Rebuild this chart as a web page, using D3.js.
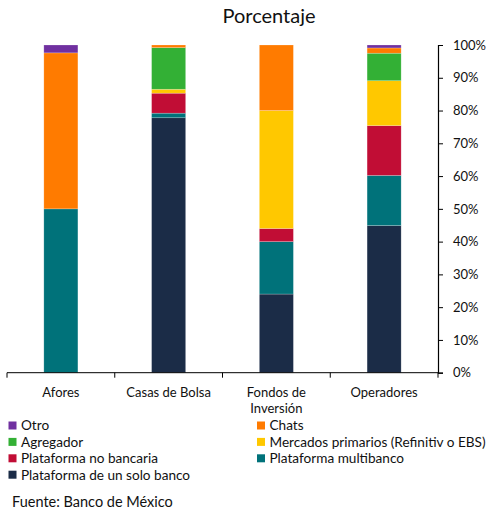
<!DOCTYPE html>
<html>
<head>
<meta charset="utf-8">
<script src="https://cdn.jsdelivr.net/npm/d3@7"></script>
<style>
  body { margin: 0; background: #fff; }
  svg { display: block; font-family: Lato, "Open Sans", sans-serif; }
</style>
</head>
<body>
<svg id="chart" width="487" height="512"></svg>
<script>
// Categories (x axis) and stacked series, bottom to top
const categories = ["Afores", "Casas de Bolsa", "Fondos de\nInversión", "Operadores"];
const seriesNames = [
  "Plataforma de un solo banco",
  "Plataforma multibanco",
  "Plataforma no bancaria",
  "Mercados primarios (Refinitiv o EBS)",
  "Agregador",
  "Chats",
  "Otro"
];
const seriesColors = ["#1b2c47", "#00727a", "#c10d35", "#ffc800", "#33b035", "#ff7b00", "#7030a0"];
// Percentages per category, one array per series (same order as seriesNames)
const soloBanco   = [0,    77.8, 24, 44.9];
const multibanco  = [50,   1.4,  16, 15.3];
const noBancaria  = [0,    6.1,  4,  15.2];
const mercados    = [0,    1.2,  36, 13.7];
const agregador   = [0,    12.7, 0,  8.4];
const chats       = [47.6, 0.8,  20, 1.6];
const otro        = [2.4,  0,    0,  0.9];
const yTicks = [0, 10, 20, 30, 40, 50, 60, 70, 80, 90, 100];

const values = [soloBanco, multibanco, noBancaria, mercados, agregador, chats, otro];
const rows = categories.map((c, i) => {
  const r = { cat: c };
  seriesNames.forEach((s, j) => r[s] = values[j][i]);
  return r;
});

const svg = d3.select("#chart");
const plotLeft = 7, plotRight = 438, plotTop = 45, plotBottom = 372.7;

const x = d3.scaleBand().domain(categories).range([plotLeft, plotRight]).paddingInner(0).paddingOuter(0);
const y = d3.scaleLinear().domain([0, 100]).range([plotBottom, plotTop]);
const barW = x.bandwidth() * 0.316;

const stack = d3.stack().keys(seriesNames)(rows);

// Bars
svg.append("g").selectAll("g").data(stack).join("g")
  .attr("fill", (d, i) => seriesColors[i])
  .selectAll("rect").data(d => d).join("rect")
  .attr("x", d => x(d.data.cat) + (x.bandwidth() - barW) / 2)
  .attr("width", barW)
  .attr("y", d => y(d[1]))
  .attr("height", d => Math.max(0, y(d[0]) - y(d[1])))
  .attr("stroke", "#fff")
  .attr("stroke-opacity", 0.35)
  .attr("stroke-width", 0.6);

// Right-hand value axis
const yAxis = svg.append("g")
  .attr("transform", `translate(${plotRight},0)`)
  .call(d3.axisRight(y).tickValues(yTicks).tickFormat(d => d + "%").tickSize(5).tickPadding(10));
yAxis.select(".domain").attr("stroke", "#000").attr("stroke-width", 1.2);
yAxis.selectAll(".tick line").attr("stroke", "#000");
yAxis.selectAll("text").attr("font-size", 13).attr("fill", "#111")
  .attr("font-family", "Lato, 'Open Sans', sans-serif");

// Category axis along the bottom
const xAxisG = svg.append("g").attr("transform", `translate(0,${plotBottom})`);
xAxisG.append("line").attr("x1", plotLeft).attr("x2", plotRight).attr("stroke", "#000").attr("stroke-width", 1);
const catEdges = categories.map(c => x(c)).concat([plotRight]);
xAxisG.selectAll("line.tk").data(catEdges).join("line").attr("class", "tk")
  .attr("x1", d => d).attr("x2", d => d).attr("y1", 0).attr("y2", 5)
  .attr("stroke", "#000");
xAxisG.selectAll("text").data(categories).join("text")
  .attr("x", d => x(d) + x.bandwidth() / 2)
  .attr("y", 24)
  .attr("text-anchor", "middle")
  .attr("font-size", 13)
  .attr("fill", "#111")
  .each(function (d) {
    const lines = d.split("\n");
    d3.select(this).selectAll("tspan").data(lines).join("tspan")
      .attr("x", x(d) + x.bandwidth() / 2)
      .attr("dy", (l, i) => i === 0 ? 0 : 16)
      .text(l => l);
  });

// Title
svg.append("text").attr("x", 269).attr("y", 23).attr("text-anchor", "middle")
  .attr("font-size", 20).attr("fill", "#111").text("Porcentaje");

// Legend (two columns, filled row by row, top series first)
const legendOrder = ["Otro", "Chats", "Agregador", "Mercados primarios (Refinitiv o EBS)",
  "Plataforma no bancaria", "Plataforma multibanco", "Plataforma de un solo banco"];
const legend = svg.append("g");
legendOrder.forEach((name, i) => {
  const col = i % 2, row = Math.floor(i / 2);
  const lx = col === 0 ? 8.5 : 257, ly = 425.5 + row * 16.4;
  const g = legend.append("g").attr("transform", `translate(${lx},${ly})`);
  g.append("rect").attr("x", 0).attr("y", -4).attr("width", 8).attr("height", 8)
    .attr("fill", seriesColors[seriesNames.indexOf(name)]);
  g.append("text").attr("x", 12.5).attr("y", 4.8).attr("font-size", 13.6).attr("fill", "#111").text(name);
});

// Source note
svg.append("text").attr("x", 12).attr("y", 506.5).attr("font-size", 14.5).attr("fill", "#111")
  .text("Fuente: Banco de México");
</script>
</body>
</html>
